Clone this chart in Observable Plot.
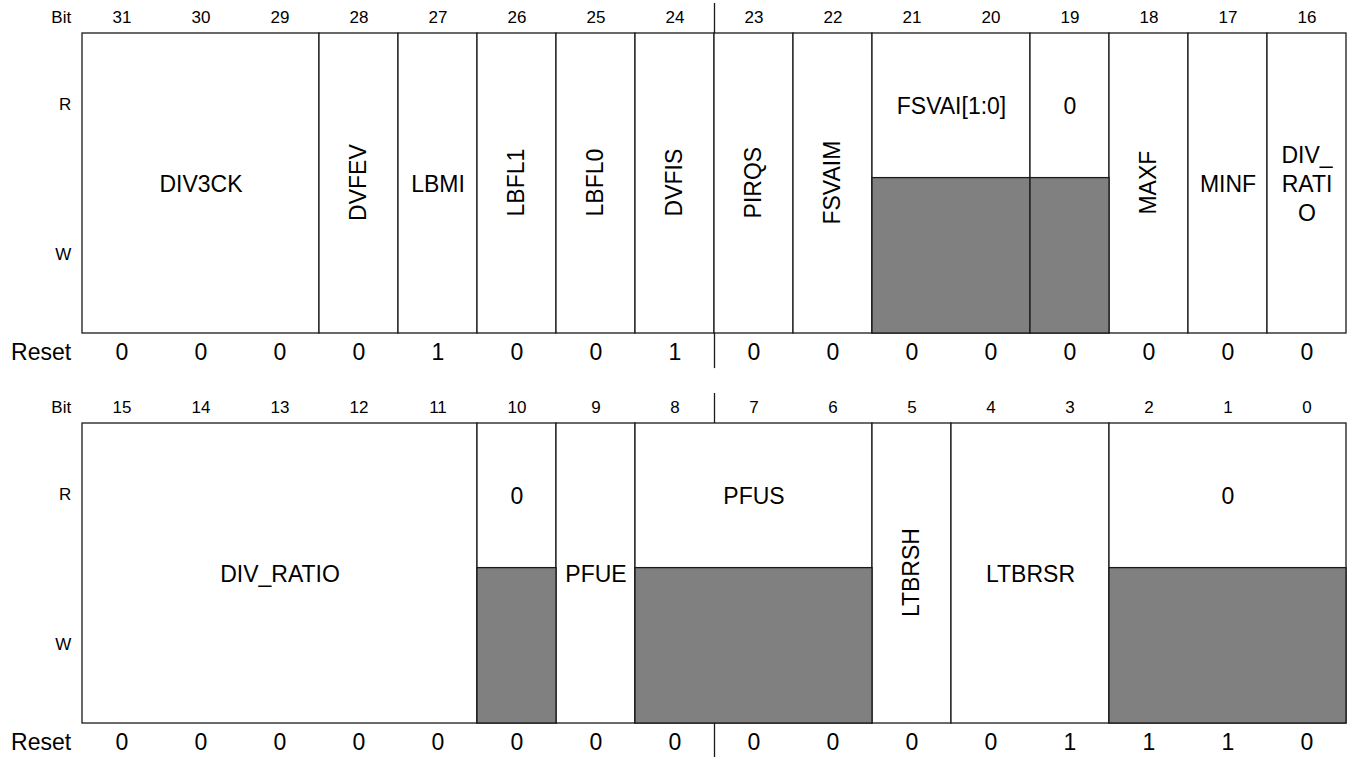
<!DOCTYPE html>
<html><head><meta charset="utf-8">
<script src="https://cdn.jsdelivr.net/npm/d3@7"></script>
<script src="https://cdn.jsdelivr.net/npm/@observablehq/plot@0.6"></script>
<style>html,body{margin:0;padding:0;background:#fff;}</style>
</head><body><div id="chart"></div>
<script>
// ---- data ----
const bitNumbers = [31,30,29,28,27,26,25,24,23,22,21,20,19,18,17,16,
                    15,14,13,12,11,10,9,8,7,6,5,4,3,2,1,0];
const resetValues = [0,0,0,0,1,0,0,1,0,0,0,0,0,0,0,0,
                     0,0,0,0,0,0,0,0,0,0,0,0,1,1,1,0];
const rowLabels = ["Bit","R","W","Reset"];
const fieldNames  = ["DIV3CK","DVFEV","LBMI","LBFL1","LBFL0","DVFIS","PIRQS","FSVAIM","FSVAI[1:0]","0","MAXF","MINF","DIV_RATIO",
                     "DIV_RATIO","0","PFUE","PFUS","LTBRSH","LTBRSR","0"];
const fieldMsb    = [31,28,27,26,25,24,23,22,21,19,18,17,16, 15,10,9,8,5,4,2];
const fieldLsb    = [29,28,27,26,25,24,23,22,20,19,18,17,16, 11,10,9,6,5,3,0];
const fieldAccess = ["rw","rw","rw","rw","rw","rw","rw","rw","r","r","rw","rw","rw",
                     "rw","r","rw","r","rw","rw","r"];

// ---- style / layout ----
const verticalFields = new Set(["DVFEV","LBFL1","LBFL0","DVFIS","PIRQS","FSVAIM","MAXF","LTBRSH"]);
const ROW_GAP = 1.3, BIT_DY = -0.052, RESET_DY = 0.064, R_DY = 0.238, W_DY = 0.738, SPLIT = 0.482;
const LINE = "#1a1a1a";

function wrapLabel(name, bits) {
  if (bits === 1 && name.length > 6) return name.match(/.{1,4}/g).join("\n");
  return name;
}

const fields = fieldNames.map((name, i) => {
  const msb = fieldMsb[i], lsb = fieldLsb[i];
  const row = msb >= 16 ? 0 : 1;
  return {name, row, y0: row * ROW_GAP, x1: 15 - (msb % 16), x2: 16 - (lsb % 16),
          ro: fieldAccess[i] === "r", label: wrapLabel(name, msb - lsb + 1)};
});
const cells = bitNumbers.map((b, i) => ({b, reset: resetValues[i], row: i < 16 ? 0 : 1, col: i % 16}));
const leftLabels = [0, 1].flatMap(r => rowLabels.map((t, j) => ({t, r,
  y: r * ROW_GAP + [BIT_DY, R_DY, W_DY, 1 + RESET_DY][j], big: t === "Reset"})));
const dividers = [0, 1].flatMap(r => [
  {y1: r * ROW_GAP - 0.1, y2: r * ROW_GAP},
  {y1: r * ROW_GAP + 1, y2: r * ROW_GAP + 1.117}]);

const chart = Plot.plot({
  width: 1349, height: 757,
  marginLeft: 82, marginRight: 3, marginTop: 0, marginBottom: 0,
  x: {domain: [0, 16], axis: null},
  y: {domain: [-0.11, 2.4133], reverse: true, axis: null},
  style: {fontFamily: '"Liberation Sans", Arial, Helvetica, sans-serif', background: "#fff", color: "#000"},
  marks: [
    Plot.rect(fields, {x1: "x1", x2: "x2", y1: d => d.y0, y2: d => d.y0 + 1, fill: "#fff", stroke: LINE, strokeWidth: 1.3}),
    Plot.rect(fields.filter(d => d.ro), {x1: "x1", x2: "x2", y1: d => d.y0 + SPLIT, y2: d => d.y0 + 1,
      fill: "#808080", stroke: LINE, strokeWidth: 1.3}),
    Plot.ruleX(dividers, {x: 8, y1: "y1", y2: "y2", stroke: LINE, strokeWidth: 1.3}),
    Plot.text(fields.filter(d => !verticalFields.has(d.name)), {
      x: d => (d.x1 + d.x2) / 2, y: d => d.y0 + (d.ro ? R_DY : 0.497), text: "label",
      fontSize: 23, lineHeight: 1.25, fill: "#000"}),
    Plot.text(fields.filter(d => verticalFields.has(d.name)), {
      x: d => (d.x1 + d.x2) / 2, y: d => d.y0 + 0.497, text: "label", rotate: -90,
      fontSize: 23, fill: "#000"}),
    Plot.text(cells, {x: d => d.col + 0.5, y: d => d.row * ROW_GAP + BIT_DY, text: d => String(d.b), fontSize: 17, fill: "#000"}),
    Plot.text(cells, {x: d => d.col + 0.5, y: d => d.row * ROW_GAP + 1 + RESET_DY, text: d => String(d.reset), fontSize: 23, fill: "#000"}),
    Plot.text(leftLabels.filter(d => !d.big), {x: -0.143, y: "y", text: "t", textAnchor: "end", fontSize: 17, fill: "#000"}),
    Plot.text(leftLabels.filter(d => d.big), {x: -0.143, y: "y", text: "t", textAnchor: "end", fontSize: 23, fill: "#000"})
  ]
});
document.getElementById("chart").appendChild(chart);
</script>
</body></html>
